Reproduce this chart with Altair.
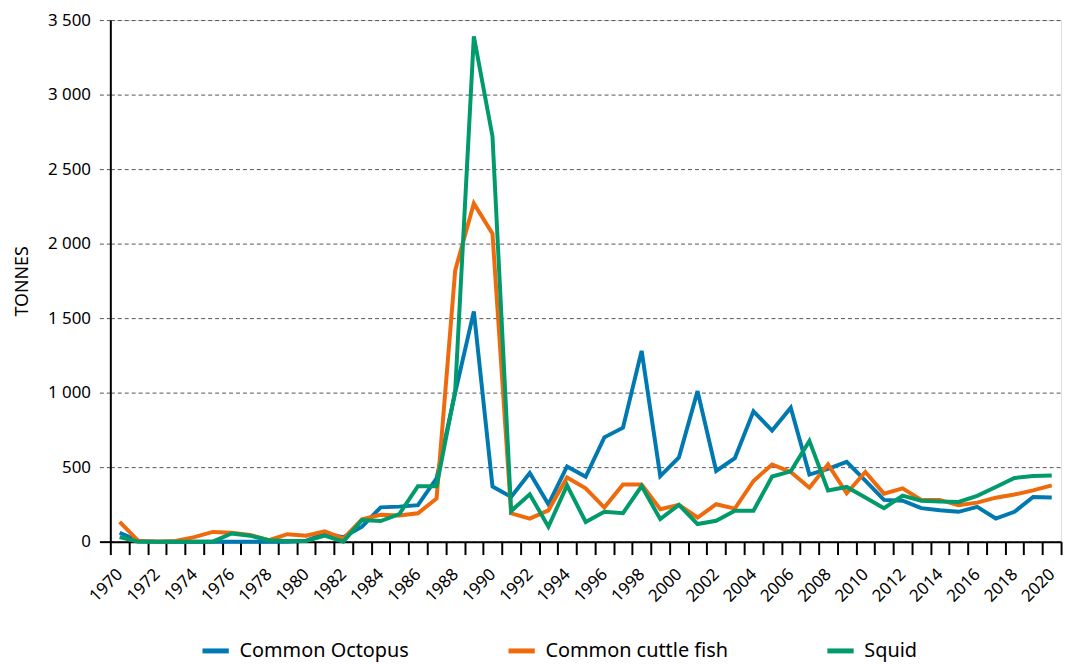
import altair as alt
import pandas as pd

years = list(range(1970, 2021))

octopus = [60, 5, 0, 0, 0, 0, 0, 0, 0, 0,
           5, 55, 30, 100, 230, 235, 245, 425, 1000, 1545,
           370, 300, 460, 250, 505, 435, 700, 765, 1280, 440,
           565, 1010, 475, 560, 875, 745, 898, 450, 489, 536,
           410, 280, 275, 225, 211, 200, 233, 155, 200, 300,
           296]

cuttle = [133, 5, 0, 5, 30, 65, 60, 45, 10, 50,
          40, 70, 20, 150, 180, 175, 190, 290, 1820, 2270,
          2067, 190, 155, 210, 430, 358, 229, 384, 384, 218,
          247, 162, 251, 222, 407, 518, 467, 362, 518, 325,
          467, 322, 358, 280, 280, 244, 262, 295, 316, 344,
          378]

squid = [30, 0, 0, 0, 0, 0, 55, 40, 10, 5,
         5, 40, 0, 145, 138, 185, 372, 372, 1011, 3390,
         2719, 205, 318, 100, 378, 132, 200, 191, 373, 151,
         247, 118, 140, 207, 207, 437, 472, 676, 344, 367,
         296, 224, 309, 275, 269, 266, 307, 367, 427, 440,
         444]

series_names = ["Common Octopus", "Common cuttle fish", "Squid"]
series_colors = ["#0079b0", "#ee6a0c", "#009a6b"]
y_ticks = [0, 500, 1000, 1500, 2000, 2500, 3000, 3500]

rows = []
for name, vals in zip(series_names, [octopus, cuttle, squid]):
    for yr, v in zip(years, vals):
        rows.append({"year": yr, "value": v, "species": name})
df = pd.DataFrame(rows)

FONT = "Noto Sans"

chart = alt.Chart(df).mark_line(strokeWidth=4, strokeJoin="miter", strokeMiterLimit=3).encode(
    x=alt.X(
        "year:O",
        scale=alt.Scale(type="band", paddingInner=0, paddingOuter=0),
        bandPosition=0.5,
        axis=alt.Axis(
            title=None,
            tickBand="extent",
            labelAngle=-45,
            labelExpr="datum.value % 2 == 0 ? datum.label : ''",
            labelOverlap=False,
            tickSize=13,
            tickWidth=2,
            tickColor="black",
            domainColor="black",
            domainWidth=2,
            labelFontSize=17,
            labelFont=FONT,
            labelColor="black",
            labelPadding=17,
            labelAlign="right",
            labelBaseline="middle",
            grid=False,
        ),
    ),
    y=alt.Y(
        "value:Q",
        scale=alt.Scale(domain=[0, 3500], nice=False),
        axis=alt.Axis(
            values=y_ticks,
            title="TONNES",
            titleFont=FONT,
            titleFontSize=18,
            titleFontWeight="normal",
            titleColor="black",
            titlePadding=16,
            labelExpr="replace(format(datum.value, ','), ',', ' ')",
            labelFont=FONT,
            labelFontSize=17,
            labelColor="black",
            labelPadding=9,
            tickSize=11,
            tickColor=alt.condition("datum.value == 0", alt.value("black"), alt.value("#555555")),
            tickWidth=alt.condition("datum.value == 0", alt.value(2), alt.value(1)),
            tickDash=alt.condition("datum.value == 0", alt.value([]), alt.value([4, 3])),
            domainColor="black",
            domainWidth=2,
            grid=True,
            gridColor="#555555",
            gridDash=[4, 3],
            gridWidth=1,
        ),
    ),
    color=alt.Color(
        "species:N",
        scale=alt.Scale(domain=series_names, range=series_colors),
        legend=alt.Legend(
            title=None,
            orient="none",
            direction="horizontal",
            legendX=90,
            legendY=619,
            symbolType="stroke",
            symbolStrokeWidth=5,
            symbolSize=700,
            labelFont=FONT,
            labelFontSize=20,
            labelColor="black",
            labelLimit=0,
            labelOffset=8,
            columnPadding=89,
        ),
    ),
    order=alt.Order("species:N"),
).properties(
    width=957,
    height=525,
    autosize=alt.AutoSizeParams(type="none"),
    padding={"left": 103, "top": 10, "right": 10, "bottom": 121},
).configure_view(stroke=None).configure(font=FONT)

chart.save("out.html", embed_options={"renderer": "svg", "actions": False})
